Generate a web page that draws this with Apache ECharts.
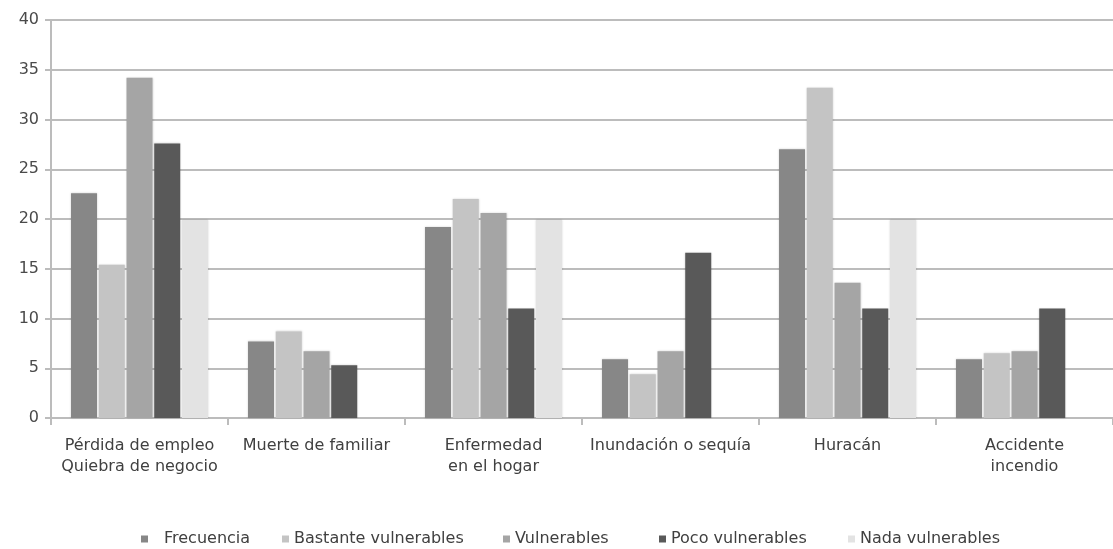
<!DOCTYPE html>
<html>
<head>
<meta charset="utf-8">
<script src="https://cdn.jsdelivr.net/npm/echarts@6/dist/echarts.min.js"></script>
<style>
  html, body { margin: 0; padding: 0; background: #fff; }
  #chart { width: 1113px; height: 549px; }
</style>
</head>
<body>
<div id="chart"></div>
<script>
// categorias (eje x)
const categories = [
  'Pérdida de empleo\nQuiebra de negocio',
  'Muerte de familiar',
  'Enfermedad\nen el hogar',
  'Inundación o sequía',
  'Huracán',
  'Accidente\nincendio'
];
const seriesNames = ['Frecuencia', 'Bastante vulnerables', 'Vulnerables', 'Poco vulnerables', 'Nada vulnerables'];
const frecuencia = [22.6, 7.7, 19.2, 5.9, 27.0, 5.9];
const bastante = [15.4, 8.7, 22.0, 4.4, 33.2, 6.5];
const vulnerables = [34.2, 6.7, 20.6, 6.7, 13.6, 6.7];
const poco = [27.6, 5.3, 11.0, 16.6, 11.0, 11.0];
const nada = [19.9, null, 19.9, null, 19.9, null];
const yTicks = [0, 5, 10, 15, 20, 25, 30, 35, 40];

const colors = ['#878787', '#c4c4c4', '#a5a5a5', '#595959', '#e3e3e3'];
const values = [frecuencia, bastante, vulnerables, poco, nada];
const legendLeft = [141, 282, 503, 659, 848];

const FONT = 'DejaVu Sans';
const gridLine = { color: '#bcbcbc', width: 2 };

let myChart = echarts.init(document.getElementById('chart'), null, { renderer: 'canvas' });

let option = {
  animation: false,
  backgroundColor: '#fff',
  color: colors,
  grid: { left: 51, top: 20, width: 1069, height: 398 },
  legend: seriesNames.map(function (name, i) {
    return {
      data: [name],
      left: legendLeft[i],
      top: 531,
      padding: 0,
      itemWidth: 7,
      itemHeight: 7,
      icon: 'rect',
      selectedMode: false,
      textStyle: {
        fontFamily: FONT, fontSize: 16, color: '#404040', lineHeight: 16,
        padding: i === 0 ? [0, 0, 0, 11] : 0
      }
    };
  }),
  xAxis: {
    type: 'category',
    data: categories,
    axisLine: { lineStyle: gridLine },
    axisTick: { show: true, length: 7, lineStyle: gridLine },
    axisLabel: {
      interval: 0, margin: 17, fontFamily: FONT, fontSize: 16,
      lineHeight: 21, color: '#404040'
    }
  },
  yAxis: {
    type: 'value',
    min: yTicks[0],
    max: yTicks[yTicks.length - 1],
    interval: 5,
    axisLine: { show: true, lineStyle: gridLine },
    axisTick: { show: true, length: 6, lineStyle: gridLine },
    splitLine: { lineStyle: gridLine },
    axisLabel: { margin: 12, fontFamily: FONT, fontSize: 16, color: '#4a4a4a' }
  },
  series: seriesNames.map(function (name, i) {
    return {
      name: name,
      type: 'bar',
      data: values[i],
      barWidth: 26,
      barGap: '6.7%',
      itemStyle: {
        color: colors[i],
        shadowColor: 'rgba(0,0,0,0.18)',
        shadowBlur: 2
      }
    };
  })
};

myChart.setOption(option);
</script>
</body>
</html>
